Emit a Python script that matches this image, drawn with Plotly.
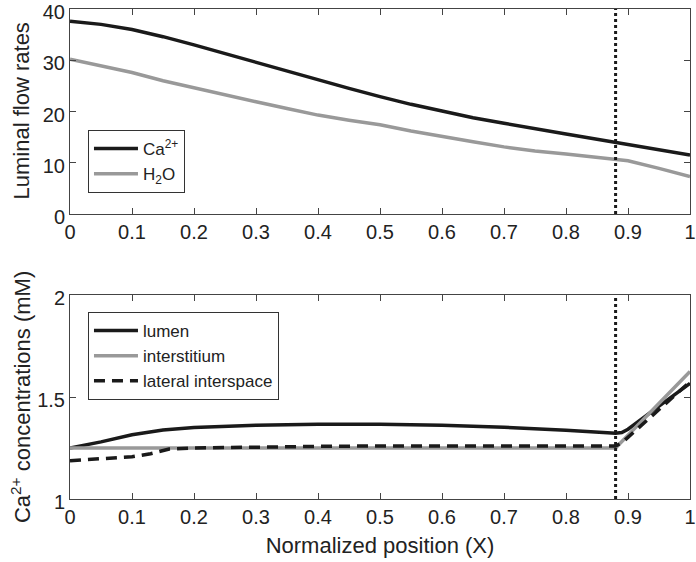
import plotly.graph_objects as go
from plotly.subplots import make_subplots

# ---- data ----
x_top = [0, 0.05, 0.1, 0.15, 0.2, 0.25, 0.3, 0.35, 0.4, 0.45, 0.5, 0.55, 0.6,
         0.65, 0.7, 0.75, 0.8, 0.85, 0.88, 0.9, 0.95, 1.0]
ca_flow = [37.6, 37.0, 36.0, 34.6, 33.0, 31.3, 29.6, 27.8, 26.1, 24.5, 22.9, 21.4,
           20.1, 18.8, 17.7, 16.6, 15.6, 14.6, 14.0, 13.6, 12.6, 11.5]
h2o_flow = [30.2, 28.9, 27.6, 26.0, 24.6, 23.2, 21.9, 20.6, 19.3, 18.3, 17.4, 16.2,
            15.1, 14.1, 13.1, 12.3, 11.7, 11.1, 10.7, 10.4, 8.9, 7.3]

x_lumen = [0, 0.05, 0.1, 0.15, 0.2, 0.3, 0.4, 0.5, 0.6, 0.7, 0.8, 0.88, 0.89, 0.9, 0.95, 1.0]
lumen = [1.25, 1.28, 1.315, 1.338, 1.350, 1.362, 1.367, 1.367, 1.362, 1.352, 1.337,
         1.322, 1.326, 1.342, 1.455, 1.567]
x_inter = [0, 0.2, 0.4, 0.6, 0.8, 0.88, 1.0]
interstitium = [1.25, 1.25, 1.25, 1.25, 1.25, 1.25, 1.625]
x_lat = [0, 0.05, 0.1, 0.13, 0.16, 0.2, 0.3, 0.4, 0.5, 0.6, 0.7, 0.8, 0.88, 0.89, 1.0]
lateral = [1.188, 1.196, 1.207, 1.222, 1.245, 1.25, 1.255, 1.258, 1.26, 1.26, 1.26,
           1.26, 1.26, 1.275, 1.575]

boundary_x = 0.88
xticks = [0, 0.1, 0.2, 0.3, 0.4, 0.5, 0.6, 0.7, 0.8, 0.9, 1]
xticklabels = ["0", "0.1", "0.2", "0.3", "0.4", "0.5", "0.6", "0.7", "0.8", "0.9", "1"]
top_yticks = [0, 10, 20, 30, 40]
bottom_yticks = [1, 1.5, 2]
bottom_yticklabels = ["1", "1.5", "2"]

BLACK = "#1a1a1a"
GRAY = "#999999"
AX = "#444444"
TXT = "#222222"
FONT = "Liberation Sans, Arial, Helvetica, sans-serif"

fig = make_subplots(rows=2, cols=1, vertical_spacing=0.0)

fig.add_trace(go.Scatter(x=x_top, y=ca_flow, mode="lines", name="Ca<sup>2+</sup>",
                         line=dict(color=BLACK, width=3.5), legend="legend"), row=1, col=1)
fig.add_trace(go.Scatter(x=x_top, y=h2o_flow, mode="lines", name="H<sub>2</sub>O",
                         line=dict(color=GRAY, width=3.5), legend="legend"), row=1, col=1)

fig.add_trace(go.Scatter(x=x_lumen, y=lumen, mode="lines", name="lumen",
                         line=dict(color=BLACK, width=3.5), legend="legend2"), row=2, col=1)
fig.add_trace(go.Scatter(x=x_inter, y=interstitium, mode="lines", name="interstitium",
                         line=dict(color=GRAY, width=3.5), legend="legend2"), row=2, col=1)
fig.add_trace(go.Scatter(x=x_lat, y=lateral, mode="lines", name="lateral interspace",
                         line=dict(color=BLACK, width=3.5, dash="11px,7px"), legend="legend2"),
              row=2, col=1)

for xr, yref in [("x", "y domain"), ("x2", "y2 domain")]:
    fig.add_shape(type="line", xref=xr, yref=yref, x0=boundary_x, x1=boundary_x, y0=0, y1=1,
                  line=dict(color=BLACK, width=3, dash="dot"))

axis_common = dict(showline=True, linecolor=AX, linewidth=1, mirror="ticks", ticks="inside",
                   ticklen=6, tickcolor=AX, showgrid=False, zeroline=False, automargin=False,
                   ticklabeloverflow="allow", tickfont=dict(size=20, color=TXT))

fig.update_xaxes(range=[0, 1], tickvals=xticks, ticktext=xticklabels, domain=[0, 1], **axis_common)
fig.update_yaxes(ticklabelshift=3, **axis_common)

fig.update_layout(
    yaxis=dict(domain=[0.5816, 1.0], range=[0, 40], tickvals=top_yticks),
    xaxis2=dict(title=dict(text="Normalized position (X)", font=dict(size=22, color=TXT), standoff=10)),
    yaxis2=dict(domain=[0.0, 0.4163], range=[1, 2], tickvals=bottom_yticks, ticktext=bottom_yticklabels),
    width=696, height=562,
    margin=dict(l=70, r=6, t=9, b=63),
    paper_bgcolor="white", plot_bgcolor="white",
    font=dict(family=FONT, color=TXT),
    showlegend=True,
    legend=dict(x=0.029, y=0.753, xanchor="left", yanchor="top", bgcolor="white",
                bordercolor="#333", borderwidth=1, font=dict(size=17, color=TXT),
                tracegroupgap=0, itemwidth=44),
    legend2=dict(x=0.029, y=0.3816, xanchor="left", yanchor="top", bgcolor="white",
                 bordercolor="#333", borderwidth=1, font=dict(size=17, color=TXT),
                 tracegroupgap=0, itemwidth=44),
    annotations=[
        dict(text="Luminal flow rates", xref="paper", yref="paper", x=-0.079, y=0.791,
             xanchor="center", yanchor="middle", textangle=-90, showarrow=False,
             font=dict(size=22, color=TXT)),
        dict(text="Ca<sup>2+</sup> concentrations (mM)", xref="paper", yref="paper", x=-0.079,
             y=0.208, xanchor="center", yanchor="middle", textangle=-90, showarrow=False,
             font=dict(size=22, color=TXT)),
    ],
)

fig.write_html("out.html", config={"displayModeBar": False},
               post_script="document.body.style.margin='0px';")
